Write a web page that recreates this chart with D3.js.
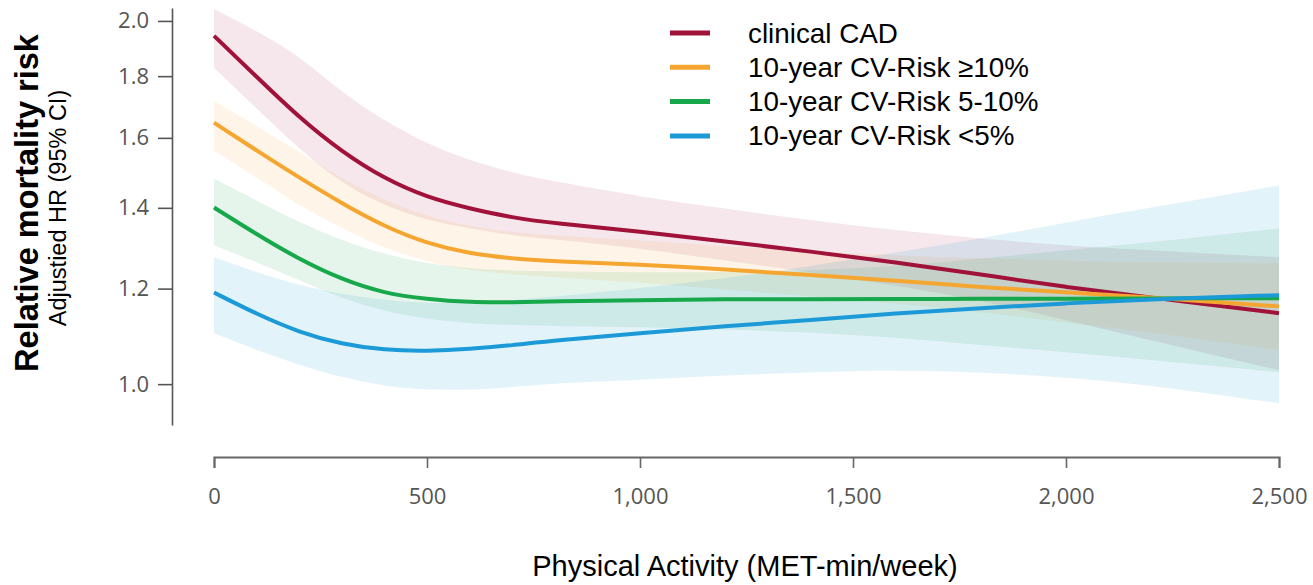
<!DOCTYPE html>
<html>
<head>
<meta charset="utf-8">
<script src="https://cdn.jsdelivr.net/npm/d3@7"></script>
<style>
  html, body { margin: 0; padding: 0; background: #ffffff; }
  svg { display: block; }
</style>
</head>
<body>
<svg id="chart" width="1313" height="585"></svg>
<script>
// ---------- DATA ----------
const met = [0, 100, 200, 300, 400, 500, 600, 700, 800, 1000, 1200, 1400, 1600, 1800, 2000, 2200, 2500];

const seriesNames = ["clinical CAD", "10-year CV-Risk \u226510%", "10-year CV-Risk 5-10%", "10-year CV-Risk <5%"];

const cadHR    = [1.944, 1.798, 1.663, 1.558, 1.480, 1.428, 1.398, 1.374, 1.359, 1.338, 1.313, 1.288, 1.262, 1.233, 1.203, 1.180, 1.145];
const cadLow   = [1.829, 1.692, 1.567, 1.466, 1.406, 1.367, 1.346, 1.328, 1.318, 1.296, 1.266, 1.238, 1.207, 1.174, 1.130, 1.087, 1.027];
const cadHigh  = [2.046, 1.963, 1.871, 1.744, 1.653, 1.582, 1.532, 1.497, 1.472, 1.430, 1.398, 1.367, 1.341, 1.320, 1.303, 1.291, 1.274];

const highHR   = [1.647, 1.562, 1.483, 1.412, 1.351, 1.308, 1.283, 1.271, 1.264, 1.257, 1.245, 1.231, 1.219, 1.203, 1.192, 1.180, 1.160];
const highLow  = [1.561, 1.483, 1.406, 1.346, 1.296, 1.262, 1.242, 1.233, 1.226, 1.214, 1.198, 1.182, 1.167, 1.147, 1.125, 1.104, 1.067];
const highHigh = [1.717, 1.638, 1.556, 1.480, 1.420, 1.377, 1.351, 1.336, 1.328, 1.316, 1.301, 1.288, 1.279, 1.271, 1.266, 1.262, 1.259];

const midHR    = [1.401, 1.331, 1.269, 1.221, 1.189, 1.176, 1.169, 1.169, 1.171, 1.174, 1.176, 1.176, 1.176, 1.177, 1.177, 1.178, 1.178];
const midLow   = [1.303, 1.262, 1.219, 1.178, 1.149, 1.132, 1.123, 1.119, 1.117, 1.115, 1.110, 1.104, 1.094, 1.077, 1.063, 1.047, 1.023];
const midHigh  = [1.480, 1.420, 1.361, 1.316, 1.281, 1.259, 1.247, 1.242, 1.240, 1.238, 1.238, 1.242, 1.252, 1.271, 1.291, 1.311, 1.346];

const lowHR    = [1.191, 1.143, 1.104, 1.079, 1.067, 1.065, 1.069, 1.077, 1.087, 1.102, 1.117, 1.130, 1.145, 1.156, 1.167, 1.176, 1.185];
const lowLow   = [1.102, 1.067, 1.037, 1.013, 0.996, 0.989, 0.989, 0.994, 1.002, 1.008, 1.017, 1.023, 1.027, 1.023, 1.013, 0.998, 0.964];
const lowHigh  = [1.274, 1.238, 1.207, 1.187, 1.174, 1.167, 1.167, 1.174, 1.182, 1.201, 1.224, 1.252, 1.286, 1.320, 1.361, 1.401, 1.461];

const xTicks = [0, 500, 1000, 1500, 2000, 2500];
const yTicks = [1.0, 1.2, 1.4, 1.6, 1.8, 2.0];

const colors = ["#a0123a", "#f5a631", "#17a84b", "#1c9ad8"];

// ---------- BUILD ----------
const series = [
  {name: seriesNames[0], hr: cadHR,  lo: cadLow,  hi: cadHigh,  color: colors[0]},
  {name: seriesNames[1], hr: highHR, lo: highLow, hi: highHigh, color: colors[1]},
  {name: seriesNames[2], hr: midHR,  lo: midLow,  hi: midHigh,  color: colors[2]},
  {name: seriesNames[3], hr: lowHR,  lo: lowLow,  hi: lowHigh,  color: colors[3]}
];

const svg = d3.select("#chart");

const x = d3.scaleLinear().domain([0, 2500]).range([214, 1279]);
const y = d3.scaleLog().domain([0.925, 2.05]).range([425, 8]);

// bands
const area = d3.area()
  .x((d, i) => x(met[i]))
  .y0(d => y(d[0]))
  .y1(d => y(d[1]))
  .curve(d3.curveBasis);

const bandOpacity = [0.10, 0.11, 0.11, 0.12];
series.forEach((s, k) => {
  svg.append("path")
    .attr("d", area(s.lo.map((v, i) => [v, s.hi[i]])))
    .attr("fill", s.color)
    .attr("fill-opacity", bandOpacity[k]);
});

// lines
const line = d3.line()
  .x((d, i) => x(met[i]))
  .y(d => y(d))
  .curve(d3.curveBasis);

series.forEach(s => {
  svg.append("path")
    .attr("d", line(s.hr))
    .attr("fill", "none")
    .attr("stroke", s.color)
    .attr("stroke-width", 4)
    .attr("stroke-linecap", "butt");
});

// y axis
const yAxis = svg.append("g")
  .attr("transform", "translate(172,0)")
  .call(d3.axisLeft(y).tickValues(yTicks).tickFormat(d3.format(".1f")).tickSize(14).tickSizeOuter(0).tickPadding(9));
yAxis.select(".domain").attr("stroke", "#555").attr("stroke-width", 1.6);
yAxis.selectAll(".tick line").attr("stroke", "#555").attr("stroke-width", 1.6);
yAxis.selectAll(".tick text")
  .attr("font-family", "'Open Sans', sans-serif")
  .attr("font-size", 22)
  .attr("fill", "#555");

// x axis
const xAxis = svg.append("g")
  .attr("transform", "translate(0,457)")
  .call(d3.axisBottom(x).tickValues(xTicks).tickFormat(d3.format(",")).tickSize(11).tickSizeOuter(11).tickPadding(20));
xAxis.select(".domain").attr("stroke", "#666").attr("stroke-width", 2);
xAxis.selectAll(".tick line").attr("stroke", "#666").attr("stroke-width", 1.6);
xAxis.selectAll(".tick text")
  .attr("font-family", "'Open Sans', sans-serif")
  .attr("font-size", 22)
  .attr("fill", "#555");

// axis titles
svg.append("text")
  .attr("transform", "translate(38,203) rotate(-90)")
  .attr("text-anchor", "middle")
  .attr("font-family", "'Liberation Sans', Arial, sans-serif")
  .attr("font-weight", "bold")
  .attr("font-size", 32.5)
  .attr("fill", "#000")
  .text("Relative mortality risk");

svg.append("text")
  .attr("transform", "translate(66,208) rotate(-90)")
  .attr("text-anchor", "middle")
  .attr("font-family", "'Liberation Sans', Arial, sans-serif")
  .attr("font-size", 23.5)
  .attr("fill", "#000")
  .text("Adjustied HR (95% CI)");

svg.append("text")
  .attr("x", 745)
  .attr("y", 576)
  .attr("text-anchor", "middle")
  .attr("font-family", "'Liberation Sans', Arial, sans-serif")
  .attr("font-size", 29)
  .attr("fill", "#000")
  .text("Physical Activity (MET-min/week)");

// legend
const legend = svg.append("g");
series.forEach((s, i) => {
  const cy = 33 + i * 34.3;
  legend.append("line")
    .attr("x1", 670).attr("x2", 710)
    .attr("y1", cy).attr("y2", cy)
    .attr("stroke", s.color)
    .attr("stroke-width", 5);
  legend.append("text")
    .attr("x", 748)
    .attr("y", cy + 9.5)
    .attr("font-family", "'Liberation Sans', Arial, sans-serif")
    .attr("font-size", 27.8)
    .attr("fill", "#000")
    .text(s.name);
});
</script>
</body>
</html>
